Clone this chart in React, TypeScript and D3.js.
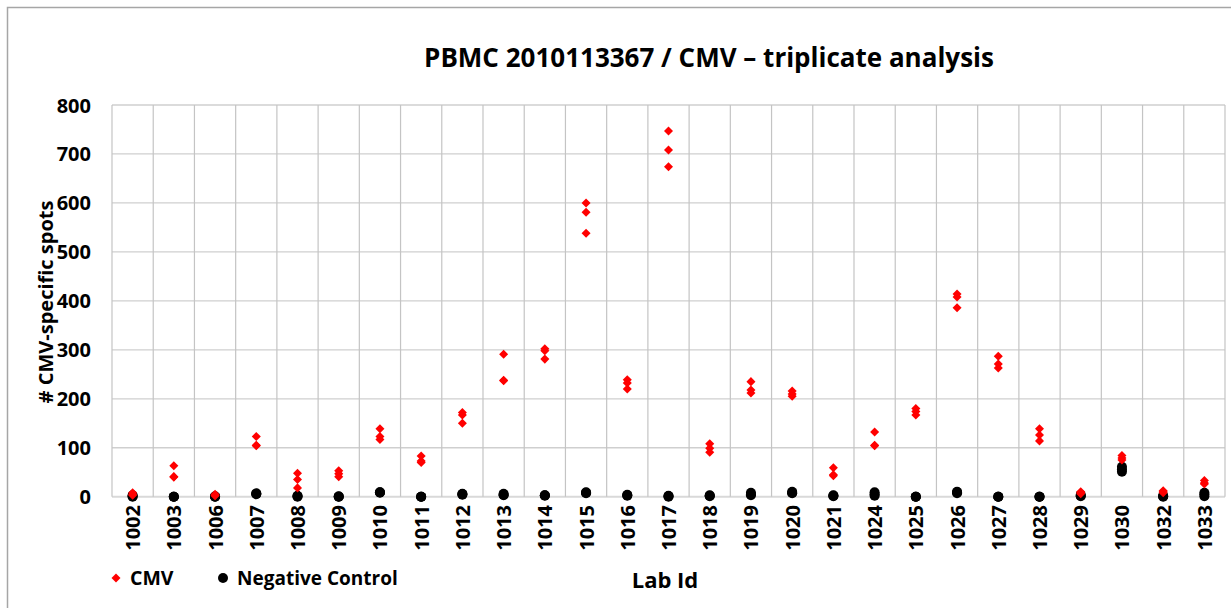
import React from "react";
import * as d3 from "d3";

const labIds = ["1002","1003","1006","1007","1008","1009","1010","1011","1012","1013","1014","1015","1016","1017","1018","1019","1020","1021","1024","1025","1026","1027","1028","1029","1030","1032","1033"];

const cmvValues: number[][] = [
  [8, 5, 3],
  [63, 40, 41],
  [5, 3, 2],
  [123, 105, 104],
  [48, 35, 18],
  [53, 47, 41],
  [139, 123, 117],
  [83, 73, 70],
  [172, 167, 150],
  [291, 238, 237],
  [302, 298, 281],
  [600, 581, 538],
  [239, 232, 220],
  [747, 708, 674],
  [108, 99, 91],
  [235, 218, 212],
  [216, 210, 205],
  [59, 45, 43],
  [132, 105, 104],
  [180, 174, 167],
  [414, 408, 386],
  [287, 271, 263],
  [139, 126, 114],
  [10, 8, 6],
  [84, 79, 75],
  [12, 10, 8],
  [33, 28, 26],
];

const negValues: number[][] = [
  [0, 1, 3],
  [0, 0, 0],
  [0, 0, 1],
  [5, 6, 7],
  [1, 2, 0],
  [0, 0, 1],
  [9, 8, 9],
  [0, 0, 0],
  [5, 6, 4],
  [4, 6, 3],
  [3, 2, 3],
  [8, 7, 9],
  [3, 2, 4],
  [1, 0, 2],
  [2, 1, 3],
  [3, 5, 8],
  [8, 7, 10],
  [2, 1, 3],
  [2, 5, 9],
  [0, 0, 0],
  [10, 9, 7],
  [0, 0, 0],
  [0, 0, 0],
  [2, 4, 1],
  [61, 56, 51],
  [1, 0, 2],
  [1, 5, 8],
];

const yTicks = [0, 100, 200, 300, 400, 500, 600, 700, 800];

const titleText = "PBMC 2010113367 / CMV \u2013 triplicate analysis";
const yTitle = "# CMV-specific spots";
const xTitle = "Lab Id";

const W = 1231;
const H = 608;
const FONT = "'Open Sans', sans-serif";

export default function App() {
  const x = d3.scaleBand<string>().domain(labIds).range([112, 1225]).paddingInner(0).paddingOuter(0);
  const y = d3.scaleLinear().domain([0, 800]).range([496.7, 105]);
  const bw = x.bandwidth();
  const diamond = d3.symbol().type(d3.symbolDiamond2).size(52)() as string;

  const boundaries = labIds.map((id) => x(id)!).concat([x.range()[1]]);

  return (
    <svg width={W} height={H} style={{ position: "absolute", left: 0, top: 0, background: "#fff" }} fontFamily={FONT}>
      <rect x={0} y={0} width={W} height={H} fill="#fff" />
      <path d={`M7.5,${H + 5}V7.5H${W + 5}`} fill="none" stroke="#a6a6a6" strokeWidth={1.5} />
      {yTicks.map((t) => (
        <line key={"h" + t} x1={112} x2={1225} y1={y(t)} y2={y(t)} stroke={t === 0 ? "#d9d9d9" : "#cfcfcf"} strokeWidth={t === 0 ? 2 : 1.3} />
      ))}
      {boundaries.map((b, i) => (
        <line key={"v" + i} x1={b} x2={b} y1={y(800)} y2={y(0)} stroke="#c4c4c4" strokeWidth={1.2} />
      ))}
      {yTicks.map((t) => (
        <text key={"yl" + t} x={91} y={y(t)} textAnchor="end" dominantBaseline="central" fontSize={20} fontWeight="bold" fill="#000">
          {t}
        </text>
      ))}
      {labIds.map((id) => {
        const cx = x(id)! + bw / 2;
        return (
          <text key={"xl" + id} transform={`translate(${cx},505) rotate(-90)`} textAnchor="end" dominantBaseline="central" fontSize={20} fontWeight="bold" fill="#000">
            {id}
          </text>
        );
      })}
      {negValues.map((vals, i) =>
        vals.map((v, j) => (
          <circle key={`n${i}-${j}`} cx={x(labIds[i])! + bw / 2} cy={y(v)} r={5} fill="#000" />
        ))
      )}
      {cmvValues.map((vals, i) =>
        vals.map((v, j) => (
          <path key={`c${i}-${j}`} d={diamond} transform={`translate(${x(labIds[i])! + bw / 2},${y(v)})`} fill="#ff0000" />
        ))
      )}
      <text x={709} y={67} textAnchor="middle" fontSize={26} fontWeight="bold" fill="#000">
        {titleText}
      </text>
      <text transform={`translate(45,302) rotate(-90)`} textAnchor="middle" dominantBaseline="central" fontSize={20} fontWeight="bold" fill="#000">
        {yTitle}
      </text>
      <text x={665} y={588} textAnchor="middle" fontSize={22} fontWeight="bold" fill="#000">
        {xTitle}
      </text>
      <path d={diamond} transform="translate(116,578)" fill="#ff0000" />
      <text x={130} y={585} fontSize={19.5} fontWeight="bold" fill="#000">CMV</text>
      <circle cx={223} cy={578} r={5} fill="#000" />
      <text x={237} y={585} fontSize={19} fontWeight="bold" fill="#000">Negative Control</text>
    </svg>
  );
}
